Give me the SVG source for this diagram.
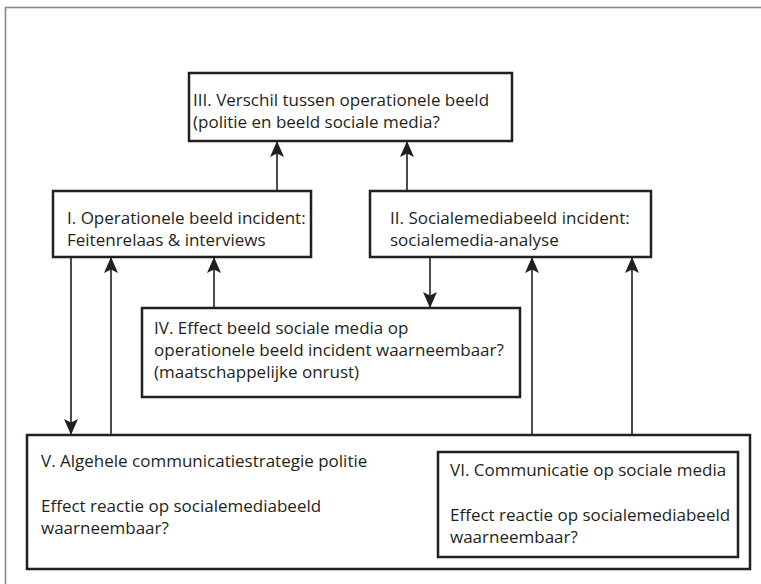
<svg xmlns="http://www.w3.org/2000/svg" width="761" height="584" viewBox="0 0 761 584">
<style>
.box{fill:#fff;stroke:#231f20;stroke-width:2.5}
.t{font-family:"Open Sans","Liberation Sans",Arial,sans-serif;font-size:17px;fill:#231f20}
.c{stroke:#231f20;stroke-width:1.6;fill:none;marker-end:url(#ah)}
</style>
<defs>
<marker id="ah" markerUnits="userSpaceOnUse" viewBox="0 0 16 14" refX="16" refY="7" markerWidth="16" markerHeight="14" orient="auto">
<path d="M0,0 L16,7 L0,14 L3.5,7 Z" fill="#231f20"/>
</marker>
</defs>
<rect x="0" y="0" width="761" height="584" fill="#fff"/>
<rect x="5.5" y="7.5" width="800" height="700" fill="none" stroke="#8a8a8a" stroke-width="1.6"/>
<g id="connectors">
<line class="c" x1="277" y1="191" x2="277" y2="141"/>
<line class="c" x1="407" y1="191" x2="407" y2="141"/>
<line class="c" x1="71" y1="257" x2="71" y2="435"/>
<line class="c" x1="111" y1="435" x2="111" y2="257"/>
<line class="c" x1="214" y1="308" x2="214" y2="257"/>
<line class="c" x1="430" y1="257" x2="430" y2="308"/>
<line class="c" x1="532" y1="435" x2="532" y2="257"/>
<line class="c" x1="632" y1="452" x2="632" y2="257"/>
</g>
<g id="node-III">
<rect class="box" x="189" y="73" width="323" height="68"/>
<text class="t" x="193" y="106">III. Verschil tussen operationele beeld</text>
<text class="t" x="193" y="128">(politie en beeld sociale media?</text>
</g>
<g id="node-I">
<rect class="box" x="53" y="191" width="258" height="66"/>
<text class="t" x="67" y="224">I. Operationele beeld incident:</text>
<text class="t" x="67" y="246">Feitenrelaas &amp; interviews</text>
</g>
<g id="node-II">
<rect class="box" x="370" y="191" width="281" height="66"/>
<text class="t" x="390" y="224">II. Socialemediabeeld incident:</text>
<text class="t" x="390" y="246">socialemedia-analyse</text>
</g>
<g id="node-IV">
<rect class="box" x="142" y="308" width="378" height="89"/>
<text class="t" x="154" y="334">IV. Effect beeld sociale media op</text>
<text class="t" x="154" y="356">operationele beeld incident waarneembaar?</text>
<text class="t" x="154" y="378">(maatschappelijke onrust)</text>
</g>
<g id="node-V">
<rect class="box" x="27" y="435" width="723" height="134"/>
<text class="t" x="41" y="467">V. Algehele communicatiestrategie politie</text>
<text class="t" x="41" y="512">Effect reactie op socialemediabeeld</text>
<text class="t" x="41" y="534">waarneembaar?</text>
</g>
<g id="node-VI">
<rect class="box" x="438" y="452" width="300" height="105"/>
<text class="t" x="450" y="476">VI. Communicatie op sociale media</text>
<text class="t" x="450" y="521">Effect reactie op socialemediabeeld</text>
<text class="t" x="450" y="543">waarneembaar?</text>
</g>
</svg>
